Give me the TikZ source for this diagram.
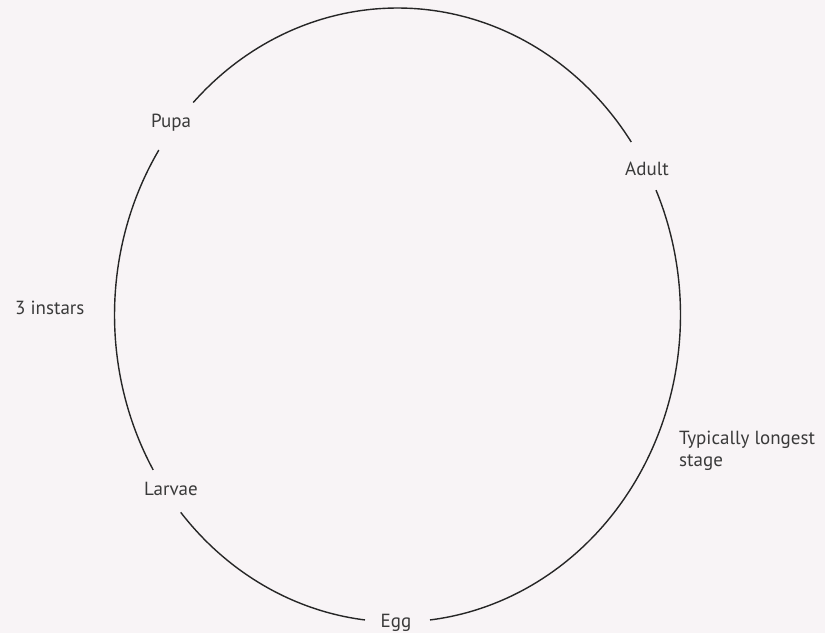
\documentclass[tikz,border=0pt]{standalone}
\usepackage{fontspec}
\setmainfont{PT Sans}
\definecolor{bg}{HTML}{F8F4F6}
\definecolor{ink}{HTML}{262626}
\definecolor{txt}{HTML}{3A3A3A}
\begin{document}
\begin{tikzpicture}[x=1pt,y=1pt,
  lbl/.style={font=\fontsize{19}{22}\selectfont, text=txt, inner sep=0pt},
  ring/.style={draw=ink, line width=1.4pt}]
\fill[bg] (0,0) rectangle (825,633);
\useasboundingbox (0,0) rectangle (825,633);
\coordinate (c) at (397.5,318);
\draw[ring] (c) ++(276.6:283 and 307) arc[start angle=276.6, end angle=384, x radius=283, y radius=307];
\draw[ring] (c) ++(34.3:283 and 307) arc[start angle=34.3, end angle=136.2, x radius=283, y radius=307];
\draw[ring] (c) ++(147.5:283 and 307) arc[start angle=147.5, end angle=210.3, x radius=283, y radius=307];
\draw[ring] (c) ++(220:283 and 307) arc[start angle=220, end angle=263.4, x radius=283, y radius=307];
\node[lbl] (pupa) at (171,510) {Pupa};
\node[lbl] (adult) at (647,464) {Adult};
\node[lbl, anchor=west] (instars) at (15,325) {3 instars};
\node[lbl, anchor=west, align=left] (longest) at (679,182) {Typically longest\\stage};
\node[lbl] (larvae) at (171,144) {Larvae};
\node[lbl] (egg) at (396,10) {Egg};
\end{tikzpicture}
\end{document}
